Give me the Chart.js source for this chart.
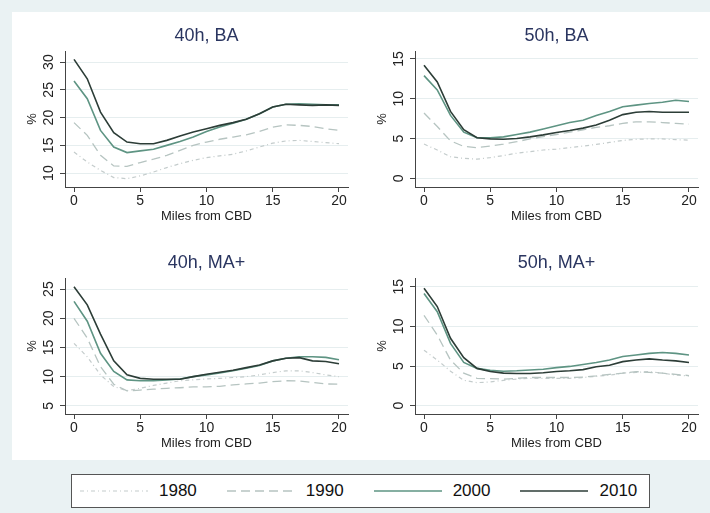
<!DOCTYPE html>
<html>
<head>
<meta charset="utf-8">
<script src="https://cdn.jsdelivr.net/npm/chart.js@4.4.1/dist/chart.umd.min.js"></script>
<style>
body { margin: 0; background: #eaf2f3; width: 710px; height: 513px; position: relative; overflow: hidden; font-family: "Liberation Sans", Arial, sans-serif; }
#fondo { position: absolute; left: 12px; top: 12px; width: 698px; height: 448px; background: #fff; }
.caja { position: absolute; width: 345px; height: 227px; }
#leyenda { position: absolute; left: 71px; top: 474px; width: 579px; height: 34px; box-sizing: border-box; border: 1px solid #555; background: #fff; display: flex; align-items: center; padding-left: 8px; }
.item { display: flex; align-items: center; margin-right: 30px; font-size: 17px; color: #111; }
.item svg { margin-right: 11px; }
</style>
</head>
<body>
<div id="fondo"></div>
<div class="caja" style="left:12px;top:12px"><canvas id="plot1" width="345" height="227"></canvas></div>
<div class="caja" style="left:362px;top:12px"><canvas id="plot2" width="345" height="227"></canvas></div>
<div class="caja" style="left:12px;top:239px"><canvas id="plot3" width="345" height="227"></canvas></div>
<div class="caja" style="left:362px;top:239px"><canvas id="plot4" width="345" height="227"></canvas></div>
<div id="leyenda"></div>
<script>
// millas desde el CBD (eje x)
const millas = [0,1,2,3,4,5,6,7,8,9,10,11,12,13,14,15,16,17,18,19,20];
const anios = ['1980', '1990', '2000', '2010'];
const xTicks = [0, 5, 10, 15, 20];

// 40h, BA
const ba40_1980 = [13.8,12.0,10.5,9.2,9.0,9.5,10.2,11.0,11.7,12.3,12.8,13.1,13.4,14.0,14.7,15.4,15.8,15.9,15.7,15.5,15.3];
const ba40_1990 = [19.1,16.8,13.2,11.3,11.2,11.9,12.5,13.2,14.1,15.0,15.6,16.1,16.5,16.9,17.5,18.3,18.7,18.6,18.4,18.0,17.7];
const ba40_2000 = [26.6,23.4,17.7,14.7,13.7,14.0,14.3,15.0,15.7,16.5,17.5,18.3,19.0,19.7,20.7,21.9,22.4,22.5,22.4,22.3,22.3];
const ba40_2010 = [30.5,27.0,21.0,17.3,15.6,15.3,15.3,15.9,16.7,17.4,18.0,18.6,19.1,19.7,20.7,21.9,22.4,22.3,22.2,22.3,22.2];
const ba40_yTicks = [10, 15, 20, 25, 30];

// 50h, BA
const ba50_1980 = [4.3,3.55,2.7,2.5,2.4,2.6,2.85,3.15,3.35,3.55,3.65,3.85,4.05,4.25,4.5,4.75,4.9,4.95,4.95,4.85,4.8];
const ba50_1990 = [8.2,6.5,4.7,4.0,3.85,4.05,4.3,4.6,4.95,5.25,5.5,5.8,6.1,6.4,6.6,6.9,7.1,7.1,7.0,6.9,6.8];
const ba50_2000 = [12.9,11.1,7.9,5.8,5.1,5.1,5.2,5.5,5.8,6.2,6.6,7.0,7.3,7.9,8.4,9.0,9.2,9.4,9.55,9.8,9.65];
const ba50_2010 = [14.2,12.1,8.4,6.1,5.1,4.95,4.9,5.0,5.2,5.45,5.75,6.0,6.3,6.7,7.3,8.0,8.3,8.4,8.3,8.3,8.3];
const ba50_yTicks = [0, 5, 10, 15];

// 40h, MA+
const ma40_1980 = [15.7,13.4,10.3,8.3,7.6,8.0,8.5,8.9,9.3,9.45,9.6,9.7,9.85,10.0,10.3,10.7,11.0,11.0,10.7,10.3,10.0];
const ma40_1990 = [20.0,16.6,11.7,8.7,7.55,7.7,7.85,8.0,8.1,8.25,8.25,8.35,8.6,8.75,8.9,9.15,9.3,9.25,9.0,8.75,8.7];
const ma40_2000 = [22.9,19.5,14.0,10.9,9.45,9.3,9.3,9.45,9.6,10.0,10.3,10.65,11.0,11.45,11.9,12.7,13.15,13.4,13.4,13.3,12.9];
const ma40_2010 = [25.4,22.3,17.3,12.7,10.3,9.7,9.55,9.55,9.55,10.0,10.4,10.75,11.1,11.55,12.0,12.7,13.15,13.25,12.7,12.6,12.2];
const ma40_yTicks = [5, 10, 15, 20, 25];

// 50h, MA+
const ma50_1980 = [7.0,5.75,4.35,3.2,2.9,3.0,3.2,3.35,3.45,3.45,3.45,3.45,3.55,3.7,3.85,4.1,4.2,4.3,4.1,3.85,3.75];
const ma50_1990 = [11.4,8.9,5.75,4.1,3.45,3.4,3.35,3.45,3.55,3.55,3.55,3.55,3.6,3.75,3.95,4.1,4.3,4.2,4.1,3.95,3.8];
const ma50_2000 = [14.15,11.85,7.85,5.45,4.7,4.45,4.35,4.4,4.5,4.6,4.8,4.95,5.2,5.45,5.75,6.2,6.4,6.6,6.7,6.6,6.4];
const ma50_2010 = [14.8,12.5,8.5,6.05,4.7,4.3,4.1,4.05,4.05,4.15,4.3,4.4,4.55,4.9,5.1,5.55,5.75,5.9,5.75,5.65,5.45];
const ma50_yTicks = [0, 5, 10, 15];

// estilos de cada serie
const colores = ['#c4cccc', '#b6c4c1', '#5e9483', '#2c3d37'];
const anchos = [1.2, 1.3, 1.6, 1.6];
const guiones = [[4, 3, 1, 3], [9, 5], [], []];

Chart.defaults.font.family = "'Liberation Sans', Arial, sans-serif";
Chart.defaults.color = '#222';

let crearPanel = (id, titulo, series, yMin, yMax, yTicks) => {
    let datasets = anios.map((anio, k) => ({
        label: anio,
        data: millas.map((m, i) => ({x: m, y: series[k][i]})),
        borderColor: colores[k],
        borderWidth: anchos[k],
        borderDash: guiones[k],
        pointRadius: 0,
        tension: 0,
        fill: false,
        order: 3 - k
    }));
    let config = {
        type: 'line',
        data: {datasets: datasets},
        options: {
            responsive: false,
            animation: false,
            layout: {padding: {left: 0, right: 9, top: 0, bottom: 0}},
            plugins: {
                legend: {display: false},
                tooltip: {enabled: false},
                title: {
                    display: true, text: titulo, fullSize: false,
                    color: '#2a3560', font: {size: 18, weight: 'normal'},
                    padding: {top: 13, bottom: 4.4}
                }
            },
            scales: {
                x: {
                    type: 'linear', min: -0.68, max: 20.68,
                    afterBuildTicks: s => { s.ticks = xTicks.map(v => ({value: v})); },
                    afterFit: s => { s.height = 52; },
                    grid: {drawOnChartArea: false, tickLength: 5, tickColor: '#444', tickWidth: 1},
                    border: {color: '#444', width: 1},
                    ticks: {font: {size: 14}, padding: 1, maxRotation: 0},
                    title: {display: true, text: 'Miles from CBD', font: {size: 13}, padding: {top: 0, bottom: 15}}
                },
                y: {
                    min: yMin, max: yMax,
                    afterBuildTicks: s => { s.ticks = yTicks.map(v => ({value: v})); },
                    afterFit: s => { s.width = 53; },
                    grid: {color: '#e6eeef', tickLength: 5, tickColor: '#444', tickWidth: 1},
                    border: {color: '#444', width: 1},
                    ticks: {font: {size: 14}, padding: 3, minRotation: 90, maxRotation: 90, crossAlign: 'center'},
                    title: {display: true, text: '%', font: {size: 13}, padding: {top: 13, bottom: 0}}
                }
            }
        }
    };
    return new Chart(document.getElementById(id), config);
};

crearPanel('plot1', '40h, BA', [ba40_1980, ba40_1990, ba40_2000, ba40_2010], 7.5, 32, ba40_yTicks);
crearPanel('plot2', '50h, BA', [ba50_1980, ba50_1990, ba50_2000, ba50_2010], -1.1, 16, ba50_yTicks);
crearPanel('plot3', '40h, MA+', [ma40_1980, ma40_1990, ma40_2000, ma40_2010], 3.6, 26.9, ma40_yTicks);
crearPanel('plot4', '50h, MA+', [ma50_1980, ma50_1990, ma50_2000, ma50_2010], -1.05, 16.1, ma50_yTicks);

// leyenda comun abajo
let leyenda = document.getElementById('leyenda');
anios.forEach((anio, k) => {
    let item = document.createElement('div');
    item.className = 'item';
    let dash = guiones[k].length ? guiones[k].join(' ') : 'none';
    item.innerHTML = `<svg width="68" height="6"><line x1="0" y1="3" x2="68" y2="3" stroke="${colores[k]}" stroke-width="${anchos[k]}" stroke-dasharray="${dash}"/></svg><span>${anio}</span>`;
    leyenda.appendChild(item);
});
</script>
</body>
</html>
